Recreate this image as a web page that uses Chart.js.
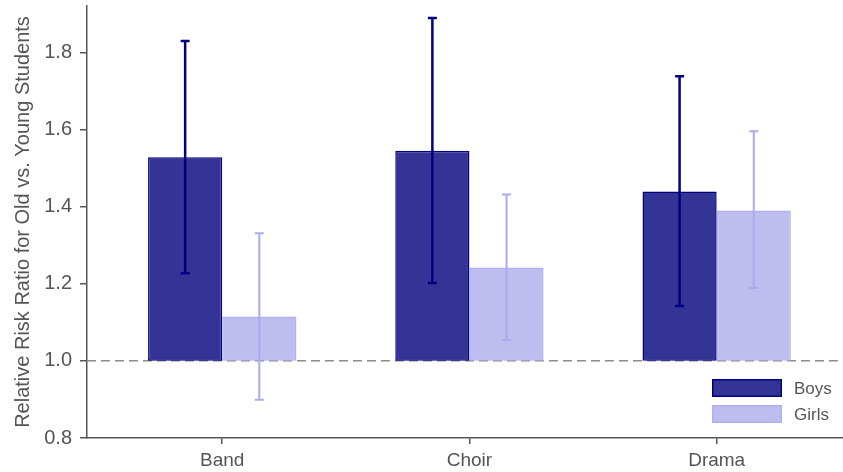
<!DOCTYPE html>
<html>
<head>
<meta charset="utf-8">
<script src="https://cdn.jsdelivr.net/npm/chart.js@4.4.1/dist/chart.umd.min.js"></script>
<style>
  html, body { margin: 0; padding: 0; background: #fff; }
  #wrap { width: 843px; height: 472px; }
</style>
</head>
<body>
<div id="wrap"><canvas id="chart"></canvas></div>
<script>
// data
const categories = ['Band', 'Choir', 'Drama'];
const boysRatio = [1.528, 1.545, 1.439];
const boysLow = [1.227, 1.202, 1.142];
const boysHigh = [1.829, 1.889, 1.738];
const girlsRatio = [1.115, 1.242, 1.390];
const girlsLow = [0.899, 1.054, 1.189];
const girlsHigh = [1.331, 1.431, 1.595];
const baseline = 1.0;
const yTicks = [0.8, 1.0, 1.2, 1.4, 1.6, 1.8];

const FONT = 'Liberation Sans, Arial, Helvetica, sans-serif';
const TEXT = '#555555';
const AXIS = '#555555';

function bars(values) {
  return values.map((v, i) => ({ x: i, y: [baseline, v] }));
}

// dashed reference line at RR = 1
const baselinePlugin = {
  id: 'baseline',
  beforeDatasetsDraw(chart) {
    const { ctx, chartArea, scales } = chart;
    const y = scales.y.getPixelForValue(baseline);
    ctx.save();
    ctx.strokeStyle = '#8c8c8c';
    ctx.lineWidth = 1.5;
    ctx.setLineDash([9, 5]);
    ctx.beginPath();
    ctx.moveTo(chartArea.left, y);
    ctx.lineTo(chartArea.right, y);
    ctx.stroke();
    ctx.restore();
  }
};

// confidence interval whiskers
const errorBarPlugin = {
  id: 'errorBars',
  afterDatasetsDraw(chart) {
    const { ctx, scales } = chart;
    chart.data.datasets.forEach((ds, d) => {
      const meta = chart.getDatasetMeta(d);
      meta.data.forEach((bar, i) => {
        const yLo = scales.y.getPixelForValue(ds.errLow[i]);
        const yHi = scales.y.getPixelForValue(ds.errHigh[i]);
        const cap = 4.5;
        ctx.save();
        ctx.strokeStyle = ds.errColor;
        ctx.lineWidth = ds.errWidth;
        ctx.beginPath();
        ctx.moveTo(bar.x, yLo);
        ctx.lineTo(bar.x, yHi);
        ctx.moveTo(bar.x - cap, yLo);
        ctx.lineTo(bar.x + cap, yLo);
        ctx.moveTo(bar.x - cap, yHi);
        ctx.lineTo(bar.x + cap, yHi);
        ctx.stroke();
        ctx.restore();
      });
    });
  }
};

// legend in the lower right corner of the plot
const cornerLegend = {
  id: 'cornerLegend',
  afterDraw(chart) {
    const { ctx, chartArea } = chart;
    const boxW = 70, boxH = 18, gap = 8;
    const left = chartArea.right - 131;
    let top = chartArea.bottom - 15 - boxH * 2 - gap;
    ctx.save();
    ctx.font = '17px ' + FONT;
    ctx.textBaseline = 'middle';
    chart.data.datasets.forEach(ds => {
      ctx.fillStyle = ds.backgroundColor;
      ctx.fillRect(left, top, boxW, boxH);
      ctx.strokeStyle = ds.borderColor;
      ctx.lineWidth = 1.5;
      ctx.strokeRect(left + 0.75, top + 0.75, boxW - 1.5, boxH - 1.5);
      ctx.fillStyle = TEXT;
      ctx.fillText(ds.label, left + boxW + 12, top + boxH / 2 + 1);
      top += boxH + gap;
    });
    ctx.restore();
  }
};

new Chart(document.getElementById('chart'), {
  type: 'bar',
  data: {
    datasets: [
      {
        label: 'Boys',
        data: bars(boysRatio),
        backgroundColor: '#343497',
        borderColor: '#000080',
        borderWidth: 1.5,
        borderSkipped: false,
        errLow: boysLow,
        errHigh: boysHigh,
        errColor: '#000080',
        errWidth: 2.5
      },
      {
        label: 'Girls',
        data: bars(girlsRatio),
        backgroundColor: '#bdbdf0',
        borderColor: '#b0b0ee',
        borderWidth: 1.5,
        borderSkipped: false,
        errLow: girlsLow,
        errHigh: girlsHigh,
        errColor: '#aaaaee',
        errWidth: 2
      }
    ]
  },
  options: {
    responsive: true,
    maintainAspectRatio: false,
    animation: false,
    categoryPercentage: 0.6,
    barPercentage: 1.0,
    layout: { padding: { top: 6, right: 0, left: 0, bottom: 0 } },
    plugins: {
      legend: { display: false },
      tooltip: { enabled: false }
    },
    scales: {
      x: {
        type: 'linear',
        position: 'bottom',
        offset: false,
        min: -0.547,
        max: 2.511,
        afterBuildTicks: s => { s.ticks = categories.map((c, i) => ({ value: i })); },
        afterFit: s => { s.height = 34; s.paddingLeft = 0; s.paddingRight = 0; },
        grid: { display: true, offset: false, drawOnChartArea: false, drawTicks: true, tickLength: 6, color: AXIS, lineWidth: 1.5 },
        border: { display: true, color: AXIS, width: 1.5 },
        ticks: {
          callback: v => categories[v] ?? '',
          color: TEXT,
          font: { family: FONT, size: 19 },
          padding: 5,
          maxRotation: 0,
          autoSkip: false
        }
      },
      y: {
        type: 'linear',
        min: 0.8,
        max: 1.92,
        afterBuildTicks: s => { s.ticks = yTicks.map(v => ({ value: v })); },
        afterFit: s => { s.width = 87; s.paddingTop = 0; s.paddingBottom = 0; },
        grid: { display: true, drawOnChartArea: false, drawTicks: true, tickLength: 7, color: AXIS, lineWidth: 1.5 },
        border: { display: true, color: AXIS, width: 1.5 },
        ticks: {
          callback: v => v.toFixed(1),
          color: TEXT,
          font: { family: FONT, size: 20 },
          padding: 8
        },
        title: {
          display: true,
          text: 'Relative Risk Ratio for Old vs. Young Students',
          color: TEXT,
          font: { family: FONT, size: 20 },
          padding: { top: 11, bottom: 0 }
        }
      }
    }
  },
  plugins: [baselinePlugin, errorBarPlugin, cornerLegend]
});
</script>
</body>
</html>
